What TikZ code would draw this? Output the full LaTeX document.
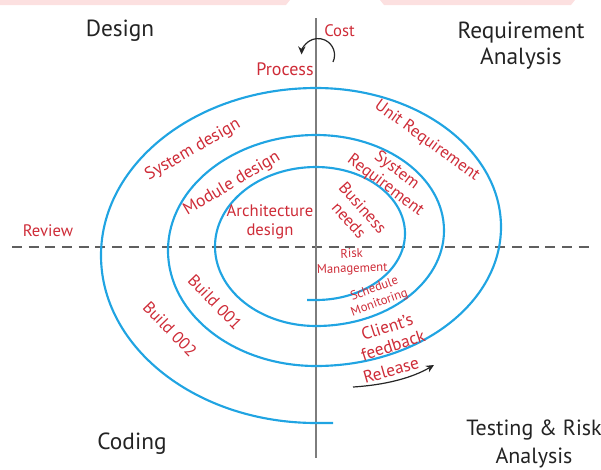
\documentclass[tikz,border=0pt]{standalone}
\usepackage{fontspec}
\setmainfont{PT Sans}
\usetikzlibrary{arrows.meta}
\definecolor{spiralblue}{RGB}{32,164,226}
\definecolor{lblred}{RGB}{206,44,56}
\definecolor{axisgray}{RGB}{125,125,125}
\definecolor{dashgray}{RGB}{95,95,95}
\definecolor{headtxt}{RGB}{35,35,35}
\definecolor{bandpink}{RGB}{252,224,224}
\begin{document}
\begin{tikzpicture}[x=0.75pt,y=-0.75pt,
  phase/.style={font=\fontsize{17.5}{21}\selectfont, text=headtxt, align=center, inner sep=0pt},
  lbl/.style={font=\fontsize{12.5}{14}\selectfont, text=lblred, align=center, inner sep=0pt},
  tiny/.style={font=\fontsize{9.5}{11}\selectfont, text=lblred, align=center, inner sep=0pt},
  spiral/.style={draw=spiralblue, line width=1.6pt},
  axis/.style={draw=axisgray, line width=1.5pt},
  guide/.style={draw=dashgray, line width=1.3pt, dash pattern=on 7.5pt off 5pt},
  turn/.style={draw=black!85, line width=0.9pt, -{Stealth[length=6pt,width=5.5pt]}}
]
\useasboundingbox (0,0) rectangle (601,469);
% faint band at the top
\fill[bandpink] (0,0) -- (290,0) -- (286,5) -- (0,5) -- cycle;
\fill[bandpink] (380,0) -- (575,0) -- (571,5) -- (384,5) -- cycle;

% axes
\coordinate (vtop) at (316,18);
\coordinate (vbot) at (316,458);
\coordinate (hl) at (12,247);
\coordinate (hr) at (590,247);
\draw[guide] (hl) -- (hr);
\draw[axis] (vtop) -- (vbot);

% spiral
\coordinate (sstart) at (307,300);
\coordinate (send) at (333,423);
\draw[spiral] (sstart) -- (316,300)
  arc[start angle=90, end angle=-90, x radius=89, y radius=66.5]
  arc[start angle=270, end angle=90, x radius=101, y radius=79.5]
  arc[start angle=90, end angle=-90, x radius=128, y radius=95.5]
  arc[start angle=270, end angle=90, x radius=148, y radius=115.5]
  arc[start angle=90, end angle=-90, x radius=185, y radius=139]
  arc[start angle=270, end angle=90, x radius=215, y radius=167.5]
  -- (send);

% phase labels
\node[phase] (design) at (120,31) {Design};
\node[phase, font=\fontsize{17.5}{19.5}\selectfont] (req) at (521,46) {Requirement\\Analysis};
\node[phase] (coding) at (132,444) {Coding};
\node[phase, font=\fontsize{16.5}{21}\selectfont] (test) at (534,444) {Testing \& Risk\\Analysis};

% cost / process
\node[lbl, anchor=west] (cost) at (324,31) {Cost};
\node[lbl, font=\fontsize{13.5}{15}\selectfont] (process) at (285,69) {Process};
\coordinate (turnS) at (333,62);
\draw[turn] (turnS) arc[start angle=25, end angle=-178, radius=16.5];

\node[lbl] (review) at (48,231) {Review};

% design side
\node[lbl, font=\fontsize{13}{14}\selectfont, rotate=30] (sysd) at (193,150) {System design};
\node[lbl, font=\fontsize{13}{14}\selectfont, rotate=31] (modd) at (232,184) {Module design};
\node[lbl] (arch) at (270,222) {Architecture\\design};

% requirement side
\node[lbl, rotate=-36] (unitr) at (427,141) {Unit Requirement};
\node[lbl, rotate=-37] (sysr) at (391,178) {System\\Requirement};
\node[lbl, rotate=-48] (bus) at (356,214) {Business\\needs};

% testing side
\node[tiny, rotate=2] (risk) at (352,262) {Risk\\Management};
\node[tiny, rotate=20] (sched) at (377,296) {Schedule\\Monitoring};
\node[lbl, font=\fontsize{13}{14.5}\selectfont, rotate=18] (client) at (390,336) {Client's\\feedback};
\node[lbl, font=\fontsize{13}{14.5}\selectfont, rotate=16] (release) at (391,370) {Release};
\coordinate (relS) at (353,387);
\coordinate (relE) at (434,365);
\draw[turn] (relS) .. controls (385,385) and (412,378) .. (relE);

% coding side
\node[lbl, rotate=-46] (b1) at (215,302) {Build 001};
\node[lbl, rotate=-46] (b2) at (170,329) {Build 002};
\end{tikzpicture}
\end{document}
